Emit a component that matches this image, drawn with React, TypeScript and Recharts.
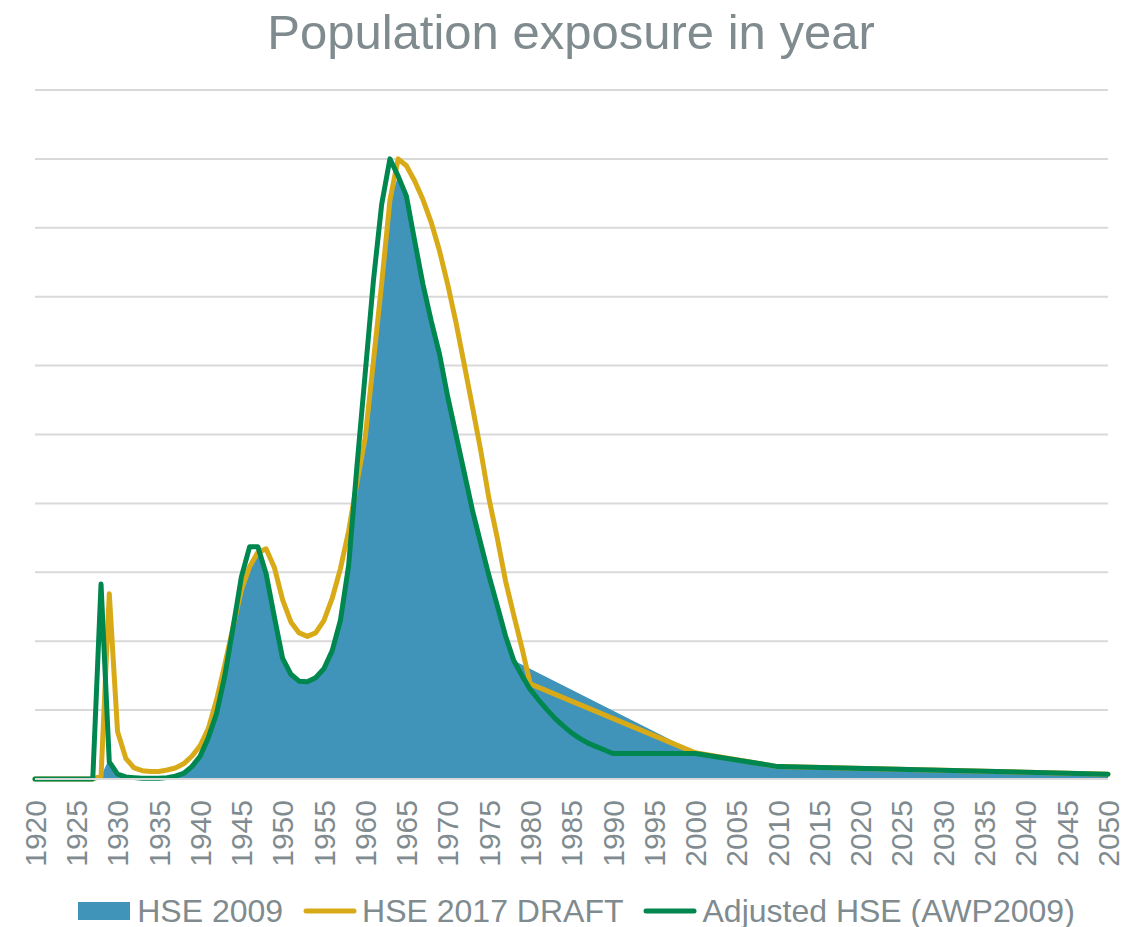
import { ComposedChart, Area, Line, XAxis, YAxis, CartesianGrid, Legend } from "recharts";

// years that carry a point in at least one series
const years = [
  1920,
  1927, 1928, 1929,
  1930, 1931, 1932, 1933, 1934, 1935, 1936, 1937, 1938, 1939,
  1940, 1941, 1942, 1943, 1944, 1945, 1946, 1947, 1948, 1949,
  1950, 1951, 1952, 1953, 1954, 1955, 1956, 1957, 1958, 1959,
  1960, 1961, 1962, 1963, 1964, 1965, 1966, 1967, 1968, 1969,
  1970, 1971, 1972, 1973, 1974, 1975, 1976, 1977, 1978, 1979,
  1980, 1981, 1982, 1983, 1984, 1985, 1986, 1987, 1988, 1989,
  1990, 2000, 2010, 2050,
];

const hse2009 = [
  0,
  0, 0.04, 0.3,
  0.07, 0.03, 0.02, 0.01, 0.01, 0.01, 0.02, 0.04, 0.08, 0.18,
  0.33, 0.6, 0.95, 1.5, 2.2, 2.74, 3.08, 3.29, 2.98, 2.35,
  1.75, 1.52, 1.42, 1.41, 1.47, 1.6, 1.86, 2.3, 3.1, 4.2,
  4.95, 6.06, 7.19, 8.4, 8.75, 8.46, 7.81, 7.18, 6.65, 6.17,
  5.55, 5.0, 4.45, 3.9, 3.42, 2.95, 2.52, 2.08, 1.72, null,
  null, null, null, null, null, null, null, null, null, null,
  null, 0.39, 0.18, 0.07,
];

const hse2017Draft = [
  0,
  0, 0.04, 2.69,
  0.69, 0.3, 0.16, 0.12, 0.11, 0.11, 0.13, 0.16, 0.22, 0.33,
  0.48, 0.73, 1.15, 1.66, 2.21, 2.74, 3.08, 3.29, 3.34, 3.07,
  2.6, 2.28, 2.12, 2.07, 2.12, 2.3, 2.62, 3.05, 3.6, 4.3,
  4.95, 6.06, 7.19, 8.4, 9.0, 8.9, 8.68, 8.41, 8.08, 7.67,
  7.18, 6.63, 6.02, 5.4, 4.77, 4.07, 3.5, 2.88, 2.38, 1.9,
  1.38, null, null, null, null, null, null, null, null, null,
  null, 0.38, 0.18, 0.07,
];

const adjustedHse = [
  0,
  0, 2.83, 0.25,
  0.07, 0.03, 0.02, 0.01, 0.01, 0.01, 0.02, 0.04, 0.08, 0.18,
  0.33, 0.6, 0.95, 1.5, 2.2, 2.93, 3.37, 3.37, 2.98, 2.35,
  1.75, 1.52, 1.42, 1.41, 1.47, 1.6, 1.86, 2.3, 3.1, 4.53,
  5.88, 7.23, 8.34, 9.0, 8.75, 8.46, 7.81, 7.18, 6.65, 6.17,
  5.55, 5.0, 4.45, 3.9, 3.42, 2.95, 2.52, 2.08, 1.72, 1.5,
  1.3, 1.15, 1.01, 0.88, 0.77, 0.67, 0.59, 0.52, 0.47, 0.42,
  0.37, 0.37, 0.18, 0.07,
];

const yearTicks = [
  1920, 1925, 1930, 1935, 1940, 1945, 1950, 1955, 1960, 1965, 1970, 1975, 1980,
  1985, 1990, 1995, 2000, 2005, 2010, 2015, 2020, 2025, 2030, 2035, 2040, 2045, 2050,
];
const gridTicks = [0, 1, 2, 3, 4, 5, 6, 7, 8, 9, 10];

const data = years.map((year, i) => ({
  year,
  hse2009: hse2009[i],
  hse2017: hse2017Draft[i],
  adjusted: adjustedHse[i],
}));

const GREY = "#7F8B8F";
const FONT = "'Liberation Sans', Arial, sans-serif";
const BLUE = "#4094BA";
const YELLOW = "#D9AA17";
const GREEN = "#00864F";

const legendItems = [
  { name: "HSE 2009", color: BLUE, kind: "rect" },
  { name: "HSE 2017 DRAFT", color: YELLOW, kind: "line" },
  { name: "Adjusted HSE (AWP2009)", color: GREEN, kind: "line" },
];

function YearTick({ x, y, payload }: any) {
  const ty = y + 21;
  return (
    <text
      x={x}
      y={ty}
      transform={`rotate(-90, ${x}, ${ty})`}
      textAnchor="end"
      dy="0.36em"
      fill={GREY}
      fontSize={30}
      fontFamily={FONT}
    >
      {payload.value}
    </text>
  );
}

function LegendContent() {
  return (
    <div
      style={{
        height: 48,
        display: "flex",
        justifyContent: "center",
        alignItems: "center",
        gap: 20,
        paddingTop: 16,
        paddingLeft: 10,
        boxSizing: "border-box",
        fontFamily: FONT,
        fontSize: 32,
        color: GREY,
      }}
    >
      {legendItems.map((it) => (
        <div key={it.name} style={{ display: "flex", alignItems: "center" }}>
          <svg width={54} height={20} style={{ marginRight: 5 }}>
            {it.kind === "rect" ? (
              <rect x={0} y={1} width={52} height={18} fill={it.color} />
            ) : (
              <line x1={3} y1={10} x2={51} y2={10} stroke={it.color} strokeWidth={5} strokeLinecap="round" />
            )}
          </svg>
          <span>{it.name}</span>
        </div>
      ))}
    </div>
  );
}

export default function App() {
  return (
    <div style={{ position: "absolute", left: 0, top: 0, width: 1142, height: 927, background: "#fff" }}>
      <div
        style={{
          position: "absolute",
          top: 4,
          left: 0,
          width: 1142,
          textAlign: "center",
          fontFamily: FONT,
          fontSize: 49,
          color: GREY,
        }}
      >
        Population exposure in year
      </div>
      <ComposedChart
        width={1142}
        height={927}
        data={data}
        margin={{ top: 90, right: 34, left: 35, bottom: 0 }}
      >
        <CartesianGrid vertical={false} stroke="#D9D9D9" strokeWidth={2} />
        <XAxis
          dataKey="year"
          type="number"
          domain={[1920, 2050]}
          ticks={yearTicks}
          interval={0}
          tickLine={false}
          tickSize={0}
          tickMargin={0}
          axisLine={{ stroke: "#D9D9D9", strokeWidth: 2 }}
          tick={<YearTick />}
          height={100}
        />
        <YAxis hide type="number" domain={[0, 10]} ticks={gridTicks} />
        <Legend verticalAlign="bottom" content={<LegendContent />} />
        <Area
          dataKey="hse2009"
          name="HSE 2009"
          type="linear"
          fill={BLUE}
          fillOpacity={1}
          stroke="none"
          connectNulls
          dot={false}
          activeDot={false}
          isAnimationActive={false}
        />
        <Line
          dataKey="hse2017"
          name="HSE 2017 DRAFT"
          type="linear"
          stroke={YELLOW}
          strokeWidth={5}
          strokeLinejoin="round"
          strokeLinecap="round"
          connectNulls
          dot={false}
          activeDot={false}
          isAnimationActive={false}
        />
        <Line
          dataKey="adjusted"
          name="Adjusted HSE (AWP2009)"
          type="linear"
          stroke={GREEN}
          strokeWidth={5}
          strokeLinejoin="round"
          strokeLinecap="round"
          connectNulls
          dot={false}
          activeDot={false}
          isAnimationActive={false}
        />
      </ComposedChart>
    </div>
  );
}
